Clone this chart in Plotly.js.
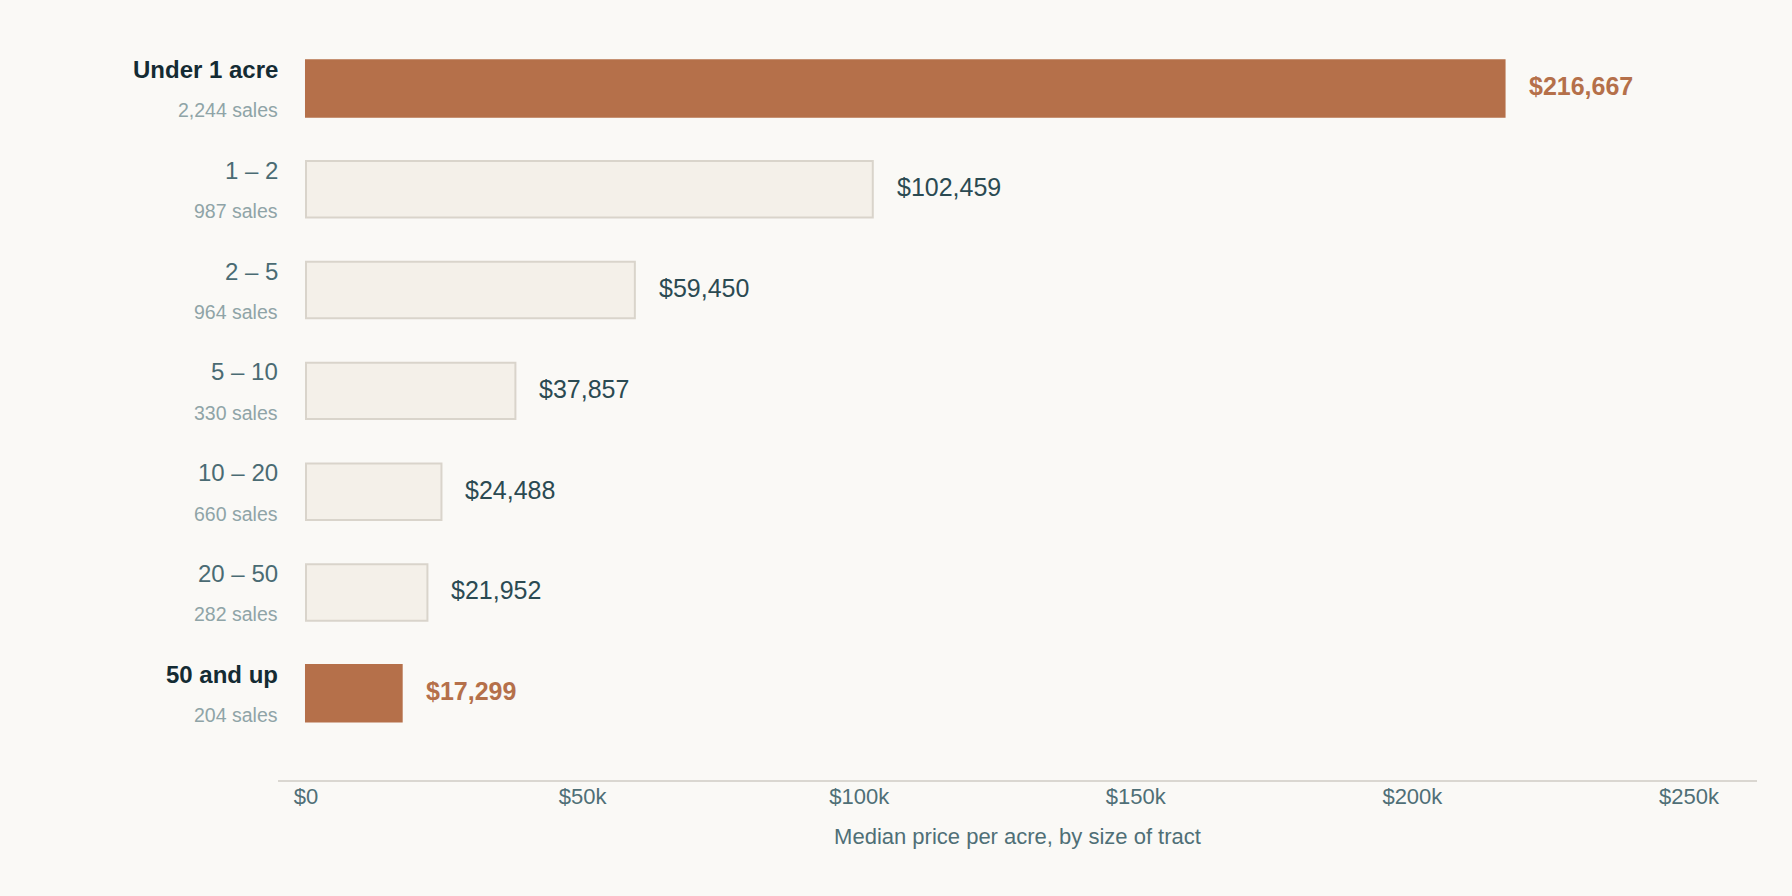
<!DOCTYPE html>
<html>
<head>
<meta charset="utf-8">
<script src="https://cdn.plot.ly/plotly-3.0.1.min.js"></script>
<style>
  html, body { margin: 0; padding: 0; background: #faf9f6; }
  #chart { width: 1792px; height: 896px; }
</style>
</head>
<body>
<div id="chart"></div>
<script>
const categories = ['Under 1 acre', '1 \u2013 2', '2 \u2013 5', '5 \u2013 10', '10 \u2013 20', '20 \u2013 50', '50 and up'];
const sales = [2244, 987, 964, 330, 660, 282, 204];
const medianPrice = [216667, 102459, 59450, 37857, 24488, 21952, 17299];
const tickVals = [0, 50000, 100000, 150000, 200000, 250000];
const tickLabels = ['$0', '$50k', '$100k', '$150k', '$200k', '$250k'];

const FONT = '"Liberation Sans", Arial, sans-serif';
const ACCENT = '#b5704a';

// highlight the largest and the smallest tract classes
const hi = i => i === 0 || i === categories.length - 1;

const bars = [{
  type: 'bar',
  orientation: 'h',
  y: categories,
  x: medianPrice,
  marker: {
    color: medianPrice.map((v, i) => hi(i) ? ACCENT : '#f4f0e9'),
    line: {
      color: medianPrice.map((v, i) => hi(i) ? ACCENT : '#d9d4cb'),
      width: 2
    }
  },
  hoverinfo: 'none'
}];

const annotations = [];
categories.forEach((c, i) => {
  annotations.push({
    xref: 'paper', x: 0, y: c, xanchor: 'right', yanchor: 'middle',
    xshift: 2, yshift: 19, showarrow: false,
    text: hi(i) ? '<b>' + c + '</b>' : c,
    font: { family: FONT, size: 24, color: hi(i) ? '#142b33' : '#4a6b73' }
  });
  annotations.push({
    xref: 'paper', x: 0, y: c, xanchor: 'right', yanchor: 'middle',
    xshift: 2, yshift: -22, showarrow: false,
    text: sales[i].toLocaleString('en-US') + ' sales',
    font: { family: FONT, size: 19.5, color: '#8fa4a7' }
  });
  const val = '$' + medianPrice[i].toLocaleString('en-US');
  annotations.push({
    x: medianPrice[i], y: c, xanchor: 'left', yanchor: 'middle',
    xshift: 22, yshift: 2, showarrow: false,
    text: hi(i) ? '<b>' + val + '</b>' : val,
    font: { family: FONT, size: 25, color: hi(i) ? ACCENT : '#2b4a52' }
  });
});

const layout = {
  width: 1792,
  height: 896,
  margin: { l: 278, r: 35, t: 38, b: 116 },
  paper_bgcolor: '#faf9f6',
  plot_bgcolor: '#faf9f6',
  showlegend: false,
  bargap: 0.44,
  font: { family: FONT },
  xaxis: {
    range: [-5060, 262300],
    tickvals: tickVals,
    ticktext: tickLabels,
    tickfont: { family: FONT, size: 22, color: '#4f6f76' },
    ticklabelstandoff: -4,
    showgrid: false,
    zeroline: false,
    showline: true,
    linecolor: '#dad7d1',
    linewidth: 2,
    ticks: '',
    automargin: false,
    title: {
      text: 'Median price per acre, by size of tract',
      font: { family: FONT, size: 22, color: '#4f6f76' },
      standoff: 20
    }
  },
  yaxis: {
    type: 'category',
    range: [6.86, -0.5],
    showticklabels: false,
    showgrid: false,
    zeroline: false,
    showline: false,
    ticks: ''
  },
  annotations: annotations
};

Plotly.newPlot('chart', bars, layout, { displayModeBar: false, staticPlot: true });
</script>
</body>
</html>
